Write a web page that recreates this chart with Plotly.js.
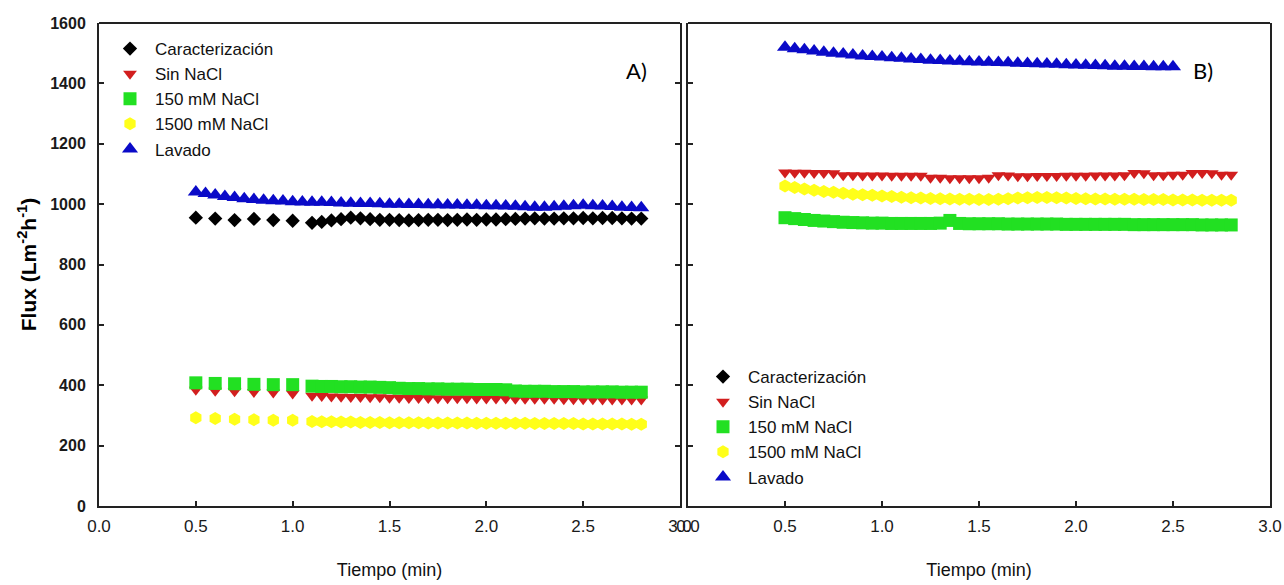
<!DOCTYPE html>
<html>
<head>
<meta charset="utf-8">
<script src="https://cdn.plot.ly/plotly-3.0.1.min.js"></script>
<style>html,body{margin:0;padding:0;background:#fff;}#chart{width:1284px;height:585px;}</style>
</head>
<body>
<div id="chart"></div>
<script>
// ---------- labels ----------
var seriesNames = ['Caracterización', 'Sin NaCl', '150 mM NaCl', '1500 mM NaCl', 'Lavado'];
var xTicks = [0.0, 0.5, 1.0, 1.5, 2.0, 2.5, 3.0];
var yTicks = [0, 200, 400, 600, 800, 1000, 1200, 1400, 1600];

// ---------- time values ----------
var timeA_sparse = [0.5, 0.6, 0.7, 0.8, 0.9, 1.0];
var timeA_dense = [1.10, 1.15, 1.20, 1.25, 1.30, 1.35, 1.40, 1.45, 1.50, 1.55, 1.60, 1.65, 1.70, 1.75, 1.80, 1.85, 1.90, 1.95, 2.00, 2.05, 2.10, 2.15, 2.20, 2.25, 2.30, 2.35, 2.40, 2.45, 2.50, 2.55, 2.60, 2.65, 2.70, 2.75, 2.80];
var timeFull = [0.50, 0.55, 0.60, 0.65, 0.70, 0.75, 0.80, 0.85, 0.90, 0.95, 1.00, 1.05, 1.10, 1.15, 1.20, 1.25, 1.30, 1.35, 1.40, 1.45, 1.50, 1.55, 1.60, 1.65, 1.70, 1.75, 1.80, 1.85, 1.90, 1.95, 2.00, 2.05, 2.10, 2.15, 2.20, 2.25, 2.30, 2.35, 2.40, 2.45, 2.50, 2.55, 2.60, 2.65, 2.70, 2.75, 2.80];
var timeB_lavado = [0.50, 0.55, 0.60, 0.65, 0.70, 0.75, 0.80, 0.85, 0.90, 0.95, 1.00, 1.05, 1.10, 1.15, 1.20, 1.25, 1.30, 1.35, 1.40, 1.45, 1.50, 1.55, 1.60, 1.65, 1.70, 1.75, 1.80, 1.85, 1.90, 1.95, 2.00, 2.05, 2.10, 2.15, 2.20, 2.25, 2.30, 2.35, 2.40, 2.45, 2.50];

// ---------- Panel A flux ----------
var caracA_sparse = [955, 952, 947, 951, 947, 945];
var caracA_dense = [938, 941, 946, 950, 955, 953, 950, 948, 948, 947, 946, 947, 948, 948, 947, 948, 949, 948, 949, 949, 950, 951, 952, 953, 952, 952, 953, 953, 954, 953, 954, 954, 953, 952, 952];
var sinA_sparse = [385, 382, 380, 378, 376, 373];
var sinA_dense = [365, 364, 363, 362, 361, 361, 360, 360, 359, 359, 358, 358, 358, 357, 357, 357, 357, 356, 356, 356, 356, 355, 355, 355, 355, 355, 354, 354, 354, 354, 353, 353, 353, 353, 353];
var nacl150A_sparse = [408, 406, 405, 403, 402, 402];
var nacl150A_dense = [397, 396, 396, 395, 395, 394, 394, 393, 392, 390, 389, 389, 388, 388, 387, 387, 387, 386, 386, 386, 385, 381, 380, 380, 380, 379, 379, 379, 378, 378, 378, 378, 377, 377, 377];
var nacl1500A_sparse = [292, 290, 287, 286, 284, 284];
var nacl1500A_dense = [280, 279, 279, 278, 278, 277, 277, 277, 276, 276, 276, 276, 275, 275, 275, 275, 275, 274, 274, 274, 274, 274, 274, 273, 273, 273, 273, 273, 272, 272, 272, 272, 272, 271, 271];
var lavadoA = [1040, 1035, 1030, 1025, 1022, 1018, 1015, 1013, 1011, 1010, 1008, 1007, 1006, 1006, 1005, 1004, 1003, 1002, 1002, 1001, 1000, 1000, 999, 999, 998, 998, 997, 997, 996, 996, 995, 995, 994, 993, 991, 990, 990, 991, 993, 995, 996, 995, 994, 992, 990, 989, 988];

// ---------- Panel B flux ----------
var caracB = [null];
var caracB_time = [null];
var sinB = [1105, 1104, 1104, 1103, 1103, 1102, 1096, 1096, 1095, 1095, 1095, 1094, 1094, 1094, 1094, 1087, 1087, 1086, 1086, 1086, 1086, 1087, 1096, 1095, 1092, 1092, 1093, 1093, 1093, 1094, 1094, 1094, 1095, 1095, 1095, 1096, 1103, 1102, 1096, 1096, 1097, 1097, 1103, 1103, 1102, 1097, 1097];
var nacl150B = [955, 952, 949, 946, 944, 942, 940, 939, 938, 937, 937, 936, 936, 936, 936, 936, 937, 946, 936, 935, 935, 935, 935, 934, 934, 934, 934, 934, 934, 933, 933, 933, 933, 933, 933, 933, 932, 932, 932, 932, 932, 932, 932, 931, 931, 931, 931];
var nacl1500B = [1060, 1055, 1050, 1046, 1042, 1039, 1036, 1033, 1031, 1029, 1027, 1025, 1023, 1021, 1020, 1019, 1018, 1017, 1016, 1016, 1015, 1015, 1016, 1018, 1020, 1021, 1022, 1022, 1021, 1020, 1019, 1018, 1017, 1017, 1016, 1016, 1016, 1015, 1015, 1015, 1014, 1014, 1014, 1013, 1013, 1013, 1013];
var lavadoB = [1520, 1515, 1511, 1507, 1503, 1500, 1497, 1494, 1491, 1489, 1487, 1485, 1483, 1481, 1479, 1477, 1476, 1474, 1473, 1472, 1471, 1470, 1469, 1468, 1467, 1466, 1465, 1464, 1463, 1462, 1461, 1460, 1459, 1458, 1457, 1457, 1456, 1456, 1455, 1455, 1455];

// ---------- styling ----------
var colors = ['#000000', '#d21e1e', '#22e022', '#ffff1a', '#0a0ac8'];
var symbols = ['diamond', 'triangle-down', 'square', 'hexagon', 'triangle-up'];
var sizes = [11, 12, 13, 13, 14];
var textFont = "'Liberation Sans Narrow', 'Arial Narrow', 'Liberation Sans', Arial, sans-serif";

function mk(i, x, y, xa, ya, leg) {
  return {
    type: 'scatter', mode: 'markers', name: seriesNames[i],
    x: x, y: y, xaxis: xa, yaxis: ya, legend: leg, showlegend: true,
    marker: {color: colors[i], symbol: symbols[i], size: sizes[i], line: {width: 0}},
    hoverinfo: 'x+y+name'
  };
}

var traces = [
  mk(0, timeA_sparse.concat(timeA_dense), caracA_sparse.concat(caracA_dense), 'x', 'y', 'legend'),
  mk(1, timeA_sparse.concat(timeA_dense), sinA_sparse.concat(sinA_dense), 'x', 'y', 'legend'),
  mk(2, timeA_sparse.concat(timeA_dense), nacl150A_sparse.concat(nacl150A_dense), 'x', 'y', 'legend'),
  mk(3, timeA_sparse.concat(timeA_dense), nacl1500A_sparse.concat(nacl1500A_dense), 'x', 'y', 'legend'),
  mk(4, timeFull, lavadoA, 'x', 'y', 'legend'),
  mk(0, caracB_time, caracB, 'x2', 'y2', 'legend2'),
  mk(1, timeFull, sinB, 'x2', 'y2', 'legend2'),
  mk(2, timeFull, nacl150B, 'x2', 'y2', 'legend2'),
  mk(3, timeFull, nacl1500B, 'x2', 'y2', 'legend2'),
  mk(4, timeB_lavado, lavadoB, 'x2', 'y2', 'legend2')
];

var axisLine = '#222222';
function xAxis(domain, anchor) {
  return {
    domain: domain, anchor: anchor, range: [0, 3], tickvals: xTicks,
    ticktext: xTicks.map(function (v) { return v.toFixed(1); }),
    ticks: 'inside', ticklen: 5, tickwidth: 1.5, tickcolor: axisLine,
    showline: true, linewidth: 2, linecolor: axisLine,
    showgrid: false, zeroline: false, automargin: false,
    ticklabelstandoff: 4,
    tickfont: {family: textFont, size: 17, color: '#1a1a1a'},
    title: {text: 'Tiempo (min)', font: {family: textFont, size: 18, color: '#111'}, standoff: 28}
  };
}
var yDomain = [1 - 506 / 585, 1 - 23 / 585];

var layout = {
  width: 1284, height: 585,
  margin: {l: 0, r: 0, t: 0, b: 0},
  paper_bgcolor: '#ffffff', plot_bgcolor: '#ffffff',
  showlegend: true,
  xaxis: xAxis([99 / 1284, 680 / 1284], 'y'),
  xaxis2: xAxis([688 / 1284, 1270 / 1284], 'y2'),
  yaxis: {
    domain: yDomain, anchor: 'x', range: [0, 1600], tickvals: yTicks,
    ticks: 'inside', ticklen: 5, tickwidth: 1.5, tickcolor: axisLine, mirror: 'ticks',
    showline: true, linewidth: 2, linecolor: axisLine,
    showgrid: false, zeroline: false, automargin: false,
    ticklabelstandoff: 8,
    tickfont: {family: textFont, size: 16, color: '#1a1a1a', weight: 'bold'},
    title: {text: 'Flux (Lm<sup>-2</sup>h<sup>-1</sup>)', font: {family: "'Liberation Sans', Arial, sans-serif", size: 21, color: '#000', weight: 'bold'}, standoff: 8}
  },
  yaxis2: {
    domain: yDomain, anchor: 'x2', range: [0, 1600], tickvals: yTicks,
    ticks: 'inside', ticklen: 5, tickwidth: 1.5, tickcolor: axisLine, mirror: true,
    showline: true, linewidth: 2, linecolor: axisLine, showticklabels: false,
    showgrid: false, zeroline: false, automargin: false
  },
  legend: {
    x: 105 / 1284, y: 1 - 31 / 585, xanchor: 'left', yanchor: 'top',
    bgcolor: 'rgba(0,0,0,0)', borderwidth: 0, itemwidth: 40, tracegroupgap: 0,
    font: {family: textFont, size: 17, color: '#111'}
  },
  legend2: {
    x: 698 / 1284, y: 1 - 359 / 585, xanchor: 'left', yanchor: 'top',
    bgcolor: 'rgba(0,0,0,0)', borderwidth: 0, itemwidth: 40, tracegroupgap: 0,
    font: {family: textFont, size: 17, color: '#111'}
  },
  shapes: [
    {type: 'line', xref: 'x domain', yref: 'y domain', x0: 0, x1: 1, y0: 1, y1: 1, line: {color: axisLine, width: 2}},
    {type: 'line', xref: 'x2 domain', yref: 'y2 domain', x0: 0, x1: 1, y0: 1, y1: 1, line: {color: axisLine, width: 2}}
  ],
  annotations: [
    {text: 'A)', xref: 'paper', yref: 'paper', x: 636 / 1284, y: 1 - 55 / 585, showarrow: false, font: {family: 'Lato, sans-serif', size: 22, color: '#000'}},
    {text: 'B)', xref: 'paper', yref: 'paper', x: 1215 / 1284, y: 1 - 55 / 585, showarrow: false, font: {family: 'Lato, sans-serif', size: 22, color: '#000'}}
  ]
};

Plotly.newPlot('chart', traces, layout, {displayModeBar: false});
</script>
</body>
</html>
